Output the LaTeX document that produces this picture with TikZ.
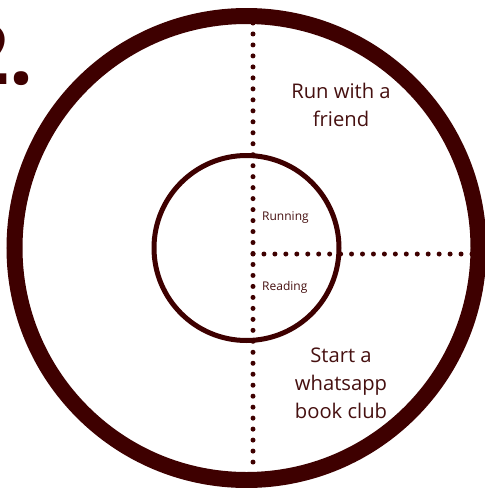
\documentclass[tikz,border=0pt]{standalone}
\usepackage{fontspec}
\setmainfont{Open Sans}
\definecolor{maroon}{RGB}{62,0,0}
\definecolor{txt}{RGB}{70,16,16}
\begin{document}
\begin{tikzpicture}[x=1pt,y=-1pt,
  ring/.style={draw=maroon},
  dotline/.style={draw=maroon,line width=5pt,line cap=round,dash pattern=on 0pt off #1pt},
  bigtext/.style={text=txt,inner sep=0pt,align=center,anchor=base,font=\fontsize{20.2}{28}\selectfont},
  smalltext/.style={text=txt,inner sep=0pt,anchor=base west,font=\fontsize{12}{14}\selectfont}]
\useasboundingbox (0,0) rectangle (485,488);
\fill[white] (0,0) rectangle (485,488);
\clip (0,0) rectangle (485,488);
\coordinate (c) at (246.5,248);
\draw[ring,line width=16pt] (c) circle[radius=232];
\draw[ring,line width=5pt] (c) circle[radius=92.5];
\coordinate (vt) at (253,23);
\coordinate (vb) at (253,473);
\coordinate (hl) at (253,254);
\coordinate (hr) at (472,254);
\draw[dotline=10.976] (vt) -- (vb);
\draw[dotline=10.95] (hl) -- (hr);
\node[bigtext] (t1) at (341,126.7) {Run with a\\friend};
\node[bigtext] (t2) at (341,418.3) {Start a\\whatsapp\\book club};
\node[smalltext] (r1) at (262,220.7) {Running};
\node[smalltext] (r2) at (262,290.7) {Reading};
\node[anchor=base east,inner sep=0pt,text=maroon,font=\fontsize{84}{84}\selectfont\bfseries] (num) at (34,84) {2.};
\end{tikzpicture}
\end{document}
